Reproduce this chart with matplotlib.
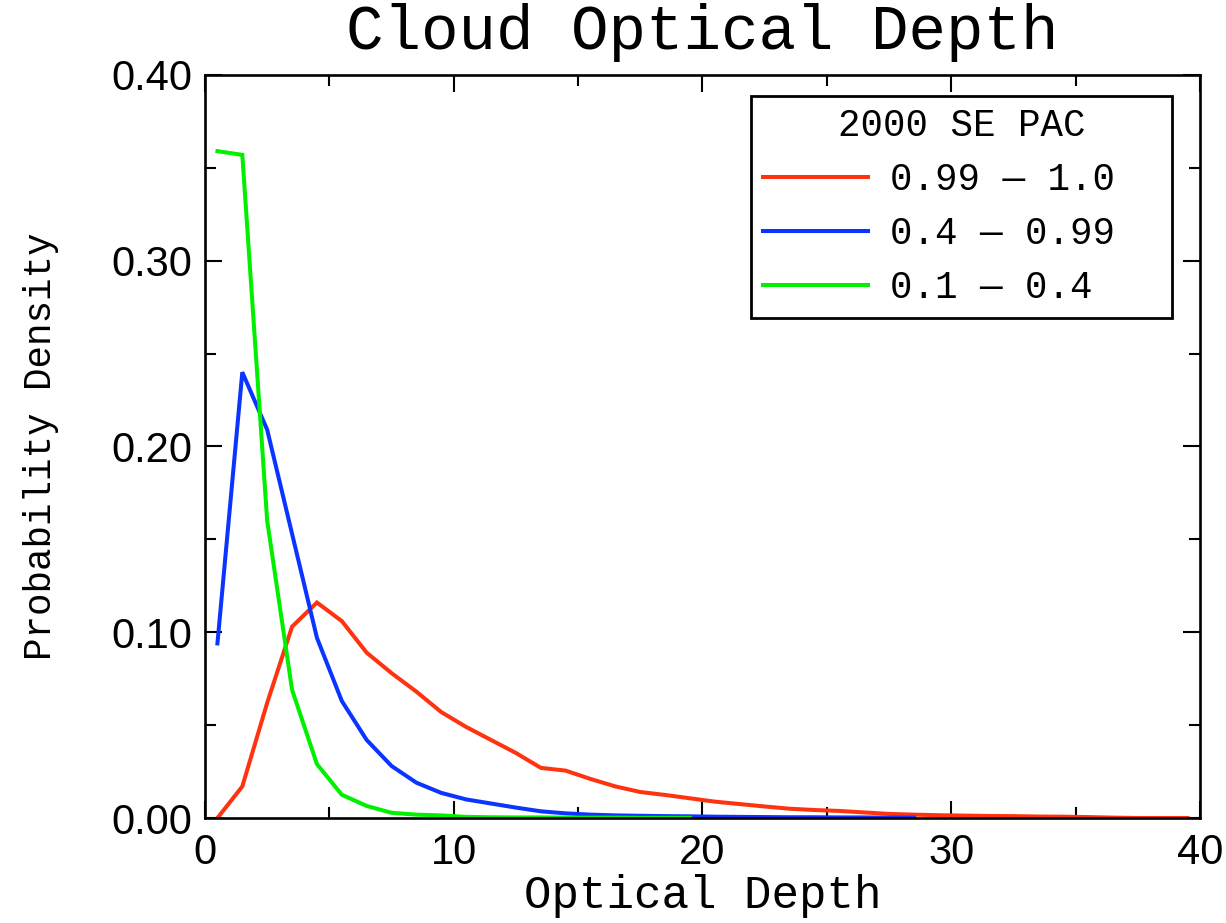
import matplotlib
matplotlib.use("Agg")
import matplotlib.pyplot as plt
from matplotlib.ticker import MultipleLocator, FormatStrFormatter

# Bin centres of optical depth
tau_red = [0.5, 1.5, 2.5, 3.5, 4.5, 5.5, 6.5, 7.5, 8.5, 9.5,
           10.5, 11.5, 12.5, 13.5, 14.5, 15.5, 16.5, 17.5, 18.5, 19.5,
           20.5, 21.5, 22.5, 23.5, 24.5, 25.5, 26.5, 27.5, 28.5, 29.5,
           30.5, 31.5, 32.5, 33.5, 34.5, 35.5, 36.5, 37.5, 38.5, 39.5]
pdf_red = [0.0, 0.017, 0.062, 0.103, 0.116, 0.106, 0.089, 0.078, 0.068, 0.057,
           0.049, 0.042, 0.035, 0.027, 0.0255, 0.021, 0.017, 0.014, 0.0124, 0.0106,
           0.0088, 0.0075, 0.0062, 0.0050, 0.0043, 0.0038, 0.0030, 0.0022, 0.0018, 0.0015,
           0.0013, 0.0011, 0.0010, 0.0008, 0.0007, 0.0005, 0.0002, 0.0, 0.0, 0.0]

tau_blue = [0.5, 1.5, 2.5, 3.5, 4.5, 5.5, 6.5, 7.5, 8.5, 9.5,
            10.5, 11.5, 12.5, 13.5, 14.5, 15.5, 16.5, 17.5, 18.5, 19.5,
            20.5, 21.5, 22.5, 23.5, 24.5, 25.5, 26.5, 27.5, 28.5]
pdf_blue = [0.094, 0.240, 0.209, 0.153, 0.097, 0.063, 0.042, 0.028, 0.019, 0.0135,
            0.010, 0.0078, 0.0056, 0.0036, 0.0025, 0.0018, 0.0014, 0.0012, 0.0010, 0.0009,
            0.0007, 0.0006, 0.0005, 0.0004, 0.0004, 0.0003, 0.0003, 0.0002, 0.0002]

tau_green = [0.5, 1.5, 2.5, 3.5, 4.5, 5.5, 6.5, 7.5, 8.5, 9.5,
             10.5, 11.5, 12.5, 13.5, 14.5, 15.5, 16.5, 17.5, 18.5, 19.5]
pdf_green = [0.359, 0.357, 0.160, 0.069, 0.029, 0.0125, 0.0065, 0.0028, 0.0018, 0.0014,
             0.0006, 0.0004, 0.0003, 0.0003, 0.0002, 0.0002, 0.0002, 0.0001, 0.0001, 0.0001]

labels = ["0.99 \u2014 1.0", "0.4 \u2014 0.99", "0.1 \u2014 0.4"]
colors = ["#ff3310", "#0a34ff", "#00f000"]

mono = ["Liberation Mono", "DejaVu Sans Mono"]
sans = ["Liberation Sans", "DejaVu Sans"]

fig = plt.figure(figsize=(12.26, 9.23), dpi=100)
ax = fig.add_axes([205 / 1226, 105 / 923, 995 / 1226, 743 / 923])

lw = 2.9
for x, y, c, lab in zip([tau_red, tau_blue, tau_green],
                        [pdf_red, pdf_blue, pdf_green], colors, labels):
    ax.plot(x, y, color=c, lw=lw, label=lab, solid_joinstyle="miter")

ax.set_xlim(0, 40)
ax.set_ylim(0, 0.40)
ax.xaxis.set_major_locator(MultipleLocator(10))
ax.xaxis.set_minor_locator(MultipleLocator(5))
ax.yaxis.set_major_locator(MultipleLocator(0.1))
ax.yaxis.set_minor_locator(MultipleLocator(0.05))
ax.yaxis.set_major_formatter(FormatStrFormatter("%.2f"))
ax.xaxis.set_major_formatter(FormatStrFormatter("%d"))

ax.tick_params(which="both", direction="in", top=True, right=True, width=1.5,
               color="black")
ax.tick_params(which="major", length=12)
ax.tick_params(which="minor", length=8)
ax.tick_params(axis="x", which="major", pad=11)
ax.tick_params(axis="y", which="major", pad=9)
for lab in ax.get_xticklabels() + ax.get_yticklabels():
    lab.set_fontfamily(sans)
    lab.set_fontsize(30)

for s in ax.spines.values():
    s.set_linewidth(1.9)
    s.set_color("black")

ax.set_title("Cloud Optical Depth", fontfamily=mono, fontsize=45, pad=19)
ax.set_xlabel("Optical Depth", fontfamily=mono, fontsize=33, va="baseline")
ax.xaxis.set_label_coords(0.5, -0.1211)
ax.set_ylabel("Probability Density", fontfamily=mono, fontsize=27, va="center")
ax.yaxis.set_label_coords(-0.165, 0.5)

leg = ax.legend(title="2000 SE PAC", loc="upper left",
                bbox_to_anchor=(0.5487, 0.6716, 0.4232, 0.3001),
                mode="expand", borderaxespad=0, frameon=True, fancybox=False,
                prop={"family": mono, "size": 27},
                title_fontproperties={"family": mono, "size": 27},
                handlelength=2.8, handletextpad=0.6, labelspacing=0.48,
                borderpad=0.32)
frame = leg.get_frame()
frame.set_edgecolor("black")
frame.set_linewidth(2.0)
frame.set_alpha(1)
for h in leg.get_lines():
    h.set_linewidth(lw)

fig.savefig("out.png", dpi=100)
